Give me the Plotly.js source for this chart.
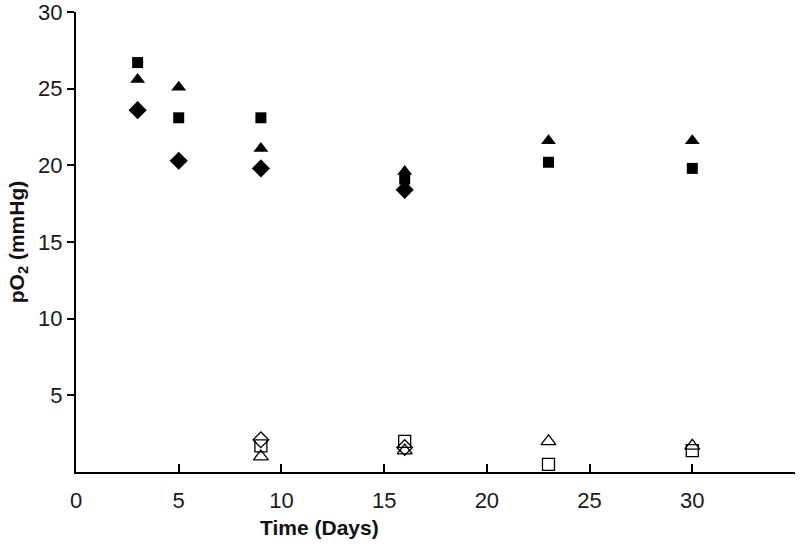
<!DOCTYPE html>
<html><head><meta charset="utf-8">
<script src="https://cdn.plot.ly/plotly-3.0.1.min.js"></script>
<style>html,body{margin:0;padding:0;background:#fff}#c{width:800px;height:556px}</style>
</head><body><div id="c"></div>
<script>
const sqFilledX = [3, 5, 9, 16, 23, 30];
const sqFilledY = [26.7, 23.1, 23.1, 19.1, 20.2, 19.8];
const triFilledX = [3, 5, 9, 16, 23, 30];
const triFilledY = [25.6, 25.1, 21.1, 19.6, 21.6, 21.6];
const diaFilledX = [3, 5, 9, 16];
const diaFilledY = [23.6, 20.3, 19.8, 18.4];
const sqOpenX = [9, 16, 23, 30];
const sqOpenY = [1.7, 2.0, 0.5, 1.4];
const triOpenX = [9, 16, 23, 30];
const triOpenY = [1.0, 1.4, 2.0, 1.7];
const diaOpenX = [9, 16];
const diaOpenY = [2.1, 1.6];
const xTicks = [0, 5, 10, 15, 20, 25, 30];
const yTicks = [5, 10, 15, 20, 25, 30];

function tr(x, y, sym, size, open) {
  return {x: x, y: y, type: 'scatter', mode: 'markers', showlegend: false, hoverinfo: 'skip',
    marker: {symbol: sym, size: size, color: '#000',
      line: {color: '#000', width: open ? 1.3 : 0}}};
}
const data = [
  tr(diaOpenX, diaOpenY, 'diamond-open', 12, true),
  tr(sqOpenX, sqOpenY, 'square-open', 12, true),
  tr(triOpenX, triOpenY, 'triangle-up-open', 13, true),
  tr(sqFilledX, sqFilledY, 'square', 11, false),
  tr(triFilledX, triFilledY, 'triangle-up', 13, false),
  tr(diaFilledX, diaFilledY, 'diamond', 14, false)
];
const F = 'Liberation Sans, Arial, sans-serif';
const layout = {
  width: 800, height: 556,
  margin: {l: 76, r: 5, t: 12, b: 84},
  paper_bgcolor: '#fff', plot_bgcolor: '#fff',
  font: {family: F, color: '#1a1a1a', size: 22},
  xaxis: {range: [0, 35], tickvals: xTicks, ticktext: xTicks.map(String),
    ticks: 'inside', ticklen: 8, tickwidth: 2, tickcolor: '#000',
    showline: true, linecolor: '#000', linewidth: 2, showgrid: false, zeroline: false,
    tickfont: {size: 22, color: '#1a1a1a', family: F}, ticklabelstandoff: 8},
  yaxis: {range: [0, 30], tickvals: yTicks, ticktext: yTicks.map(String),
    ticks: 'outside', ticklen: 7, tickwidth: 2, tickcolor: '#000',
    showline: true, linecolor: '#000', linewidth: 2, showgrid: false, zeroline: false,
    ticklabeloverflow: 'allow',
    tickfont: {size: 22, color: '#1a1a1a', family: F},
    title: {text: '<b>pO<sub>2</sub> (mmHg)</b>', font: {size: 21, color: '#111', family: F}, standoff: 8}},
  annotations: [{text: '<b>Time (Days)</b>', xref: 'paper', yref: 'paper', x: 0.339, y: -0.092,
    xanchor: 'center', yanchor: 'top', showarrow: false,
    font: {size: 21, color: '#111', family: F}}]
};
Plotly.newPlot('c', data, layout, {displayModeBar: false, staticPlot: true});
</script></body></html>
